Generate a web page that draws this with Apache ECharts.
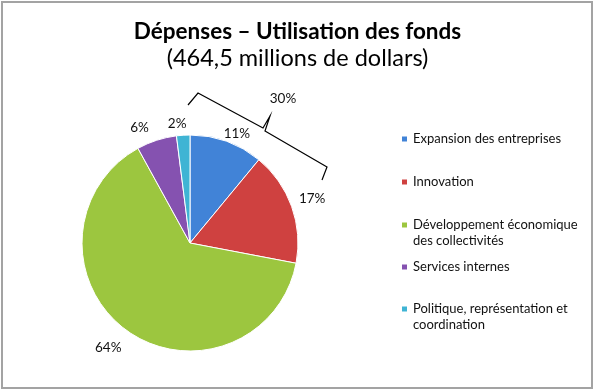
<!DOCTYPE html>
<html>
<head>
<meta charset="utf-8">
<script src="https://cdn.jsdelivr.net/npm/echarts@6/dist/echarts.min.js"></script>
<style>
html,body{margin:0;padding:0;background:#fff;}
#c{width:595px;height:392px;}
</style>
</head>
<body>
<div id="c"></div>
<script>
var categories = [
  'Expansion des entreprises',
  'Innovation',
  'Développement économique des collectivités',
  'Services internes',
  'Politique, représentation et coordination'
];
var legendLabels = [
  'Expansion des entreprises',
  'Innovation',
  'Développement économique\ndes collectivités',
  'Services internes',
  'Politique, représentation et\ncoordination'
];
var values = [11, 17, 64, 6, 2];
var colors = ['#4183d7', '#cf4140', '#9cc63f', '#8552b0', '#3fb4d4'];
var titleText = 'Dépenses – Utilisation des fonds';
var subtitleText = '(464,5 millions de dollars)';
var bracketText = '30%';

// small nudges so the outside labels sit where the reference puts them
var labelNudges = [[-12, 4], [-9, -4], [7, 8], [1, -1], [9, 0]];

var FONT = 'Lato';
var LH = 16;
var chart = echarts.init(document.getElementById('c'));

var legendCenters = [139, 182, 225, 267, 309];
var legends = categories.map(function (name, i) {
  var multi = legendLabels[i].indexOf('\n') >= 0;
  var txt = multi ? ' \n' + legendLabels[i] : legendLabels[i];
  return {
    data: [name],
    orient: 'vertical',
    left: 400,
    top: legendCenters[i] - (multi ? LH * 1.5 : LH / 2),
    padding: 0,
    itemWidth: 7,
    itemHeight: 7,
    icon: 'rect',
    selectedMode: false,
    formatter: function () { return txt; },
    textStyle: {
      fontFamily: FONT,
      fontSize: 13,
      color: '#111',
      lineHeight: LH
    }
  };
});

chart.setOption({
  animation: false,
  color: colors,
  title: [
    {
      text: titleText,
      left: 'center',
      top: 15,
      textStyle: { fontFamily: FONT, fontSize: 22.5, fontWeight: 'bold', color: '#000' }
    },
    {
      text: subtitleText,
      left: 'center',
      top: 41,
      textStyle: { fontFamily: FONT, fontSize: 23.5, fontWeight: 'normal', color: '#000' }
    }
  ],
  legend: legends,
  graphic: [
    {
      type: 'rect',
      shape: { x: 2, y: 2, width: 590, height: 386 },
      style: { fill: 'none', stroke: '#a3a3a3', lineWidth: 2 },
      silent: true
    },
    {
      type: 'polyline',
      shape: { points: [[188,105],[198,93],[263,128],[270,116],[265,131],[327,167],[322,180]] },
      style: { fill: 'none', stroke: '#000', lineWidth: 1.2 },
      silent: true
    },
    {
      type: 'text',
      x: 283, y: 99,
      style: { text: bracketText, fontFamily: FONT, fontSize: 13.5, fill: '#111', align: 'center', verticalAlign: 'middle' },
      silent: true
    }
  ],
  series: [{
    type: 'pie',
    center: [190, 243],
    radius: 108,
    startAngle: 90,
    clockwise: true,
    avoidLabelOverlap: false,
    data: categories.map(function (c, i) {
      return { name: c, value: values[i], label: { offset: labelNudges[i] } };
    }),
    itemStyle: { borderColor: '#fff', borderWidth: 1 },
    label: {
      show: true,
      position: 'outside',
      formatter: '{c}%',
      fontFamily: FONT,
      fontSize: 13.5,
      color: '#111'
    },
    labelLine: { show: false, length: 12, length2: 0 },
    emphasis: { disabled: true }
  }]
});
</script>
</body>
</html>
